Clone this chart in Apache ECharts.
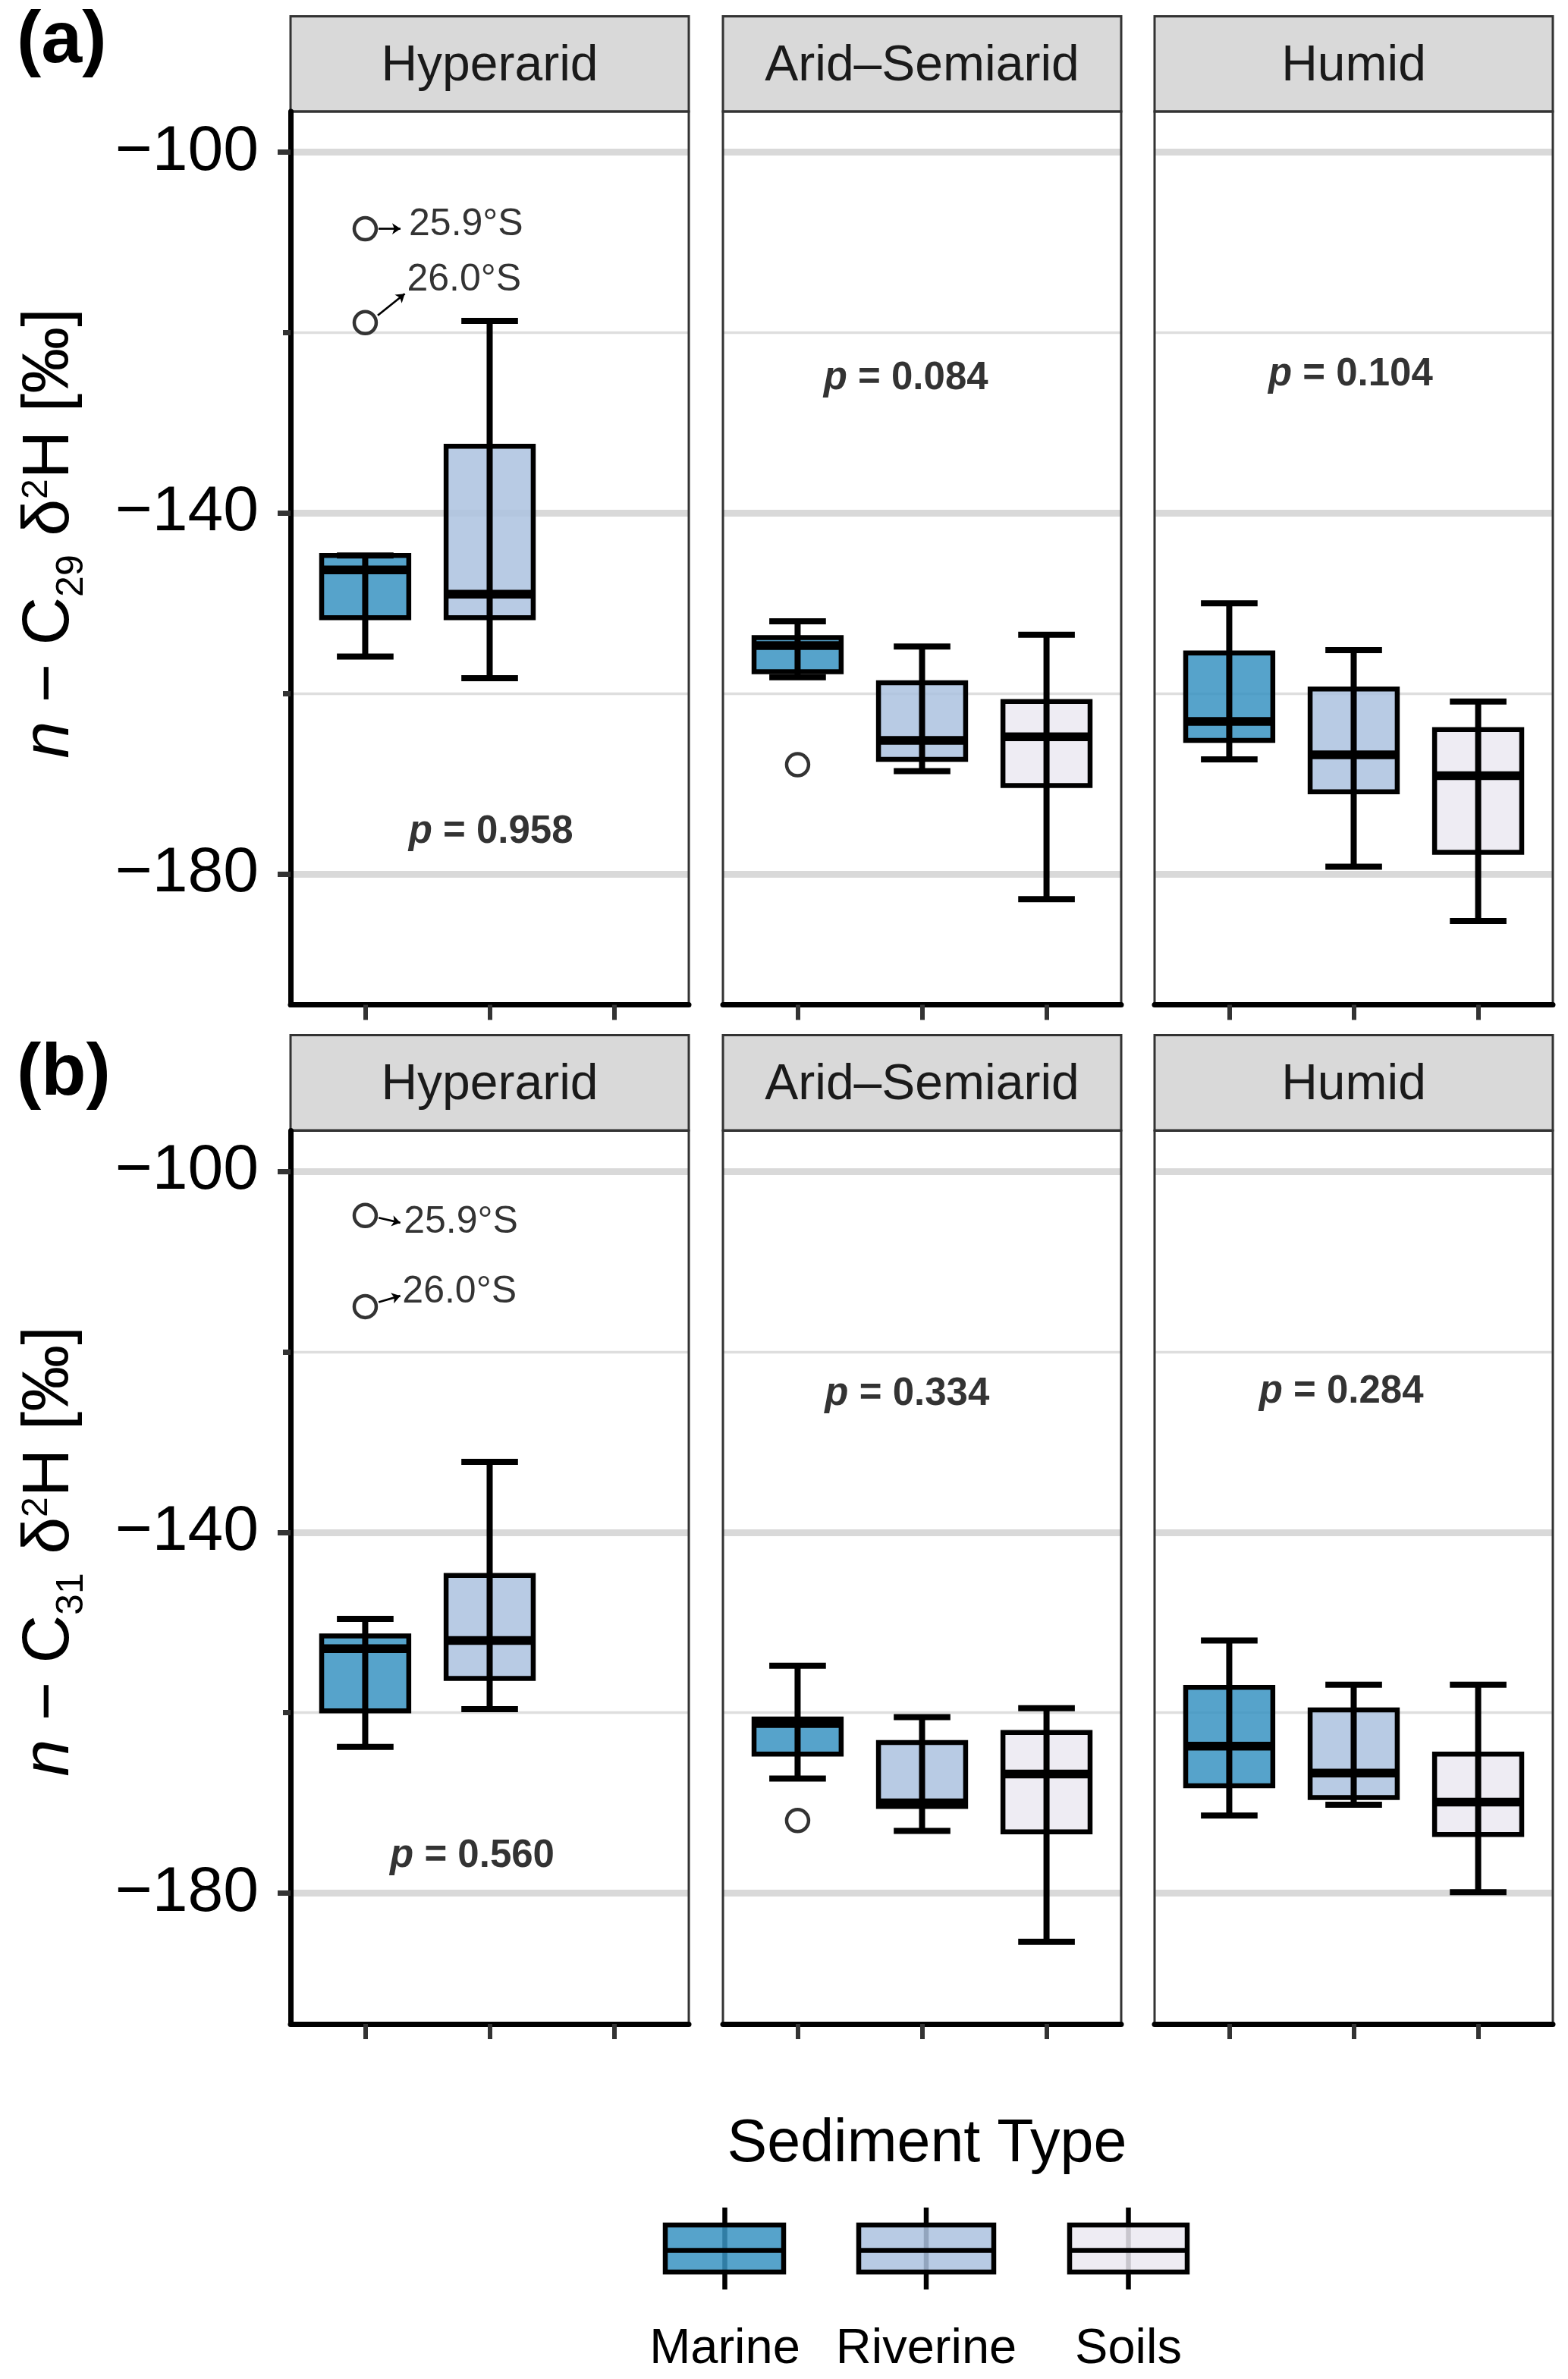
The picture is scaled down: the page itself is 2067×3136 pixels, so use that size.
<!DOCTYPE html>
<html>
<head>
<meta charset="utf-8">
<script src="https://cdn.jsdelivr.net/npm/echarts@6/dist/echarts.min.js"></script>
<style>
html,body{margin:0;padding:0;background:#ffffff;}
#c{width:2067px;height:3136px;}
</style>
</head>
<body>
<div id="c"></div>
<script>
// ---------------- DATA ----------------
const climates = ['Hyperarid', 'Arid\u2013Semiarid', 'Humid'];
const sediments = ['Marine', 'Riverine', 'Soils'];
const yTicks = [-180, -140, -100];
const yMinorTicks = [-160, -120];

// five-number summaries per climate: [lower whisker, Q1, median, Q3, upper whisker]
const c29Marine   = [[-155.9, -151.6, -146.3, -144.7, -144.7], [-158.2, -157.6, -154.7, -153.8, -152.0], [-167.3, -165.2, -163.1, -155.5, -150.0]];
const c29Riverine = [[-158.3, -151.6, -149.0, -132.6, -118.7], [-168.6, -167.3, -165.2, -158.8, -154.8], [-179.2, -170.9, -166.8, -159.5, -155.2]];
const c29Soils    = [null, [-182.8, -170.2, -164.8, -160.9, -153.5], [-185.2, -177.6, -169.1, -164.0, -160.9]];

const c31Marine   = [[-163.8, -159.8, -152.9, -151.5, -149.6], [-167.3, -164.6, -161.2, -160.7, -154.8], [-171.4, -168.1, -163.7, -157.2, -152.0]];
const c31Riverine = [[-159.6, -156.2, -152.0, -144.8, -132.2], [-173.1, -170.4, -170.0, -163.3, -160.5], [-170.2, -169.4, -166.7, -159.7, -156.9]];
const c31Soils    = [null, [-185.4, -173.2, -166.8, -162.2, -159.5], [-179.9, -173.5, -169.9, -164.6, -156.9]];

// outliers: [climate, sediment, value]
const c29Outliers = [['Hyperarid', 'Marine', -108.5], ['Hyperarid', 'Marine', -118.9], ['Arid\u2013Semiarid', 'Marine', -167.9]];
const c31Outliers = [['Hyperarid', 'Marine', -104.9], ['Hyperarid', 'Marine', -115.0], ['Arid\u2013Semiarid', 'Marine', -171.95]];

// p-values per climate
const c29P = ['0.958', '0.084', '0.104'];
const c31P = ['0.560', '0.334', '0.284'];

// outlier annotation labels
const outlierLabels = ['25.9\u00B0S', '26.0\u00B0S'];

// ---------------- LAYOUT / STYLE ----------------
const FONT = '"Liberation Sans", Arial, Helvetica, sans-serif';
const PANEL_X = [383, 953, 1522];
const PANEL_W = 525;
const ROW_TOP = [147, 1490.5];
const PANEL_H = 1177.5;
const STRIP_TOP = [21.5, 1364.5];
const STRIP_H = 125.5;
const Y_MIN = -194.5, Y_MAX = -95.5;
const X_MIN = 0.4, X_MAX = 3.6;
const BOX_WIDTH = 0.70, CAP_WIDTH = 0.455;
const FILLS = ['rgba(56,147,194,0.85)', 'rgba(171,194,223,0.85)', 'rgba(235,233,241,0.85)'];

// label positions (data coords) for p-values, per row, per climate
const P_POS = [
  [[2.01, -175.1], [1.87, -124.8], [1.975, -124.45]],
  [[1.86, -175.65], [1.88, -124.5], [1.9, -124.2]]
];
// annotation arrows + text anchors (data coords), per row
const ANNOT = [
  [{from: [1.107, -108.5], to: [1.284, -108.5], text: [1.351, -107.86]},
   {from: [1.101, -118.1], to: [1.318, -115.7], text: [1.335, -114.0]}],
  [{from: [1.108, -105.15], to: [1.282, -105.7], text: [1.309, -105.5]},
   {from: [1.108, -114.5], to: [1.282, -113.8], text: [1.298, -113.2]}]
];
const ROW_LABELS = ['(a)', '(b)'];
const ROW_LABEL_Y = [55, 1416];
const Y_TITLE_Y = [703, 2045];
const Y_TITLE_SUB = ['29', '31'];

const rows = [
  {boxes: [c29Marine, c29Riverine, c29Soils], outliers: c29Outliers, p: c29P},
  {boxes: [c31Marine, c31Riverine, c31Soils], outliers: c31Outliers, p: c31P}
];

function boxRenderer(params, api) {
  const x = api.value(0);
  const lo = api.coord([x, api.value(1)]);
  const q1 = api.coord([x, api.value(2)]);
  const md = api.coord([x, api.value(3)]);
  const q3 = api.coord([x, api.value(4)]);
  const hi = api.coord([x, api.value(5)]);
  const bw = api.size([BOX_WIDTH, 0])[0];
  const cw = api.size([CAP_WIDTH, 0])[0];
  const cx = lo[0];
  const fill = api.visual('color');
  return {
    type: 'group',
    children: [
      {type: 'rect', shape: {x: cx - bw / 2, y: q3[1], width: bw, height: q1[1] - q3[1]},
       style: {fill: fill, stroke: '#000', lineWidth: 6.5}},
      {type: 'line', shape: {x1: cx, y1: hi[1], x2: cx, y2: lo[1]}, style: {stroke: '#000', lineWidth: 8}},
      {type: 'line', shape: {x1: cx - cw / 2, y1: hi[1], x2: cx + cw / 2, y2: hi[1]}, style: {stroke: '#000', lineWidth: 8}},
      {type: 'line', shape: {x1: cx - cw / 2, y1: lo[1], x2: cx + cw / 2, y2: lo[1]}, style: {stroke: '#000', lineWidth: 8}},
      {type: 'line', shape: {x1: cx - bw / 2, y1: md[1], x2: cx + bw / 2, y2: md[1]}, style: {stroke: '#000', lineWidth: 11.5}}
    ]
  };
}

const grid = [], xAxis = [], yAxis = [], series = [], graphics = [];

rows.forEach((row, r) => {
  climates.forEach((clim, c) => {
    const gi = grid.length;
    grid.push({left: PANEL_X[c], top: ROW_TOP[r], width: PANEL_W, height: PANEL_H,
      show: true, borderColor: '#333', borderWidth: 3, backgroundColor: 'transparent', z: 4, containLabel: false});
    xAxis.push({gridIndex: gi, type: 'value', min: X_MIN, max: X_MAX, z: 6,
      axisLine: {show: true, onZero: false, lineStyle: {color: '#000', width: 7}},
      axisTick: {show: true, customValues: [1, 2, 3], length: 20, lineStyle: {color: '#333', width: 6}},
      axisLabel: {show: false}, splitLine: {show: false}});
    const yi = yAxis.length;
    if (c === 0) {
      yAxis.push({gridIndex: gi, type: 'value', min: Y_MIN, max: Y_MAX, position: 'left', z: 6,
        axisLine: {show: true, onZero: false, lineStyle: {color: '#000', width: 7}},
        axisTick: {show: true, customValues: yTicks, length: 17, lineStyle: {color: '#333', width: 7}},
        axisLabel: {show: true, customValues: yTicks, margin: 42, fontSize: 84, color: '#000', fontFamily: FONT,
          padding: [8, 0, 0, 0],
          formatter: v => '\u2212' + Math.abs(v)},
        splitLine: {show: false}});
      yAxis.push({gridIndex: gi, type: 'value', min: Y_MIN, max: Y_MAX, position: 'left', z: 6,
        axisLine: {show: false},
        axisTick: {show: true, customValues: yMinorTicks, length: 10, lineStyle: {color: '#333', width: 7}},
        axisLabel: {show: false}, splitLine: {show: false}});
    } else {
      yAxis.push({gridIndex: gi, type: 'value', min: Y_MIN, max: Y_MAX, position: 'left',
        axisLine: {show: false}, axisTick: {show: false}, axisLabel: {show: false}, splitLine: {show: false}});
    }

    // boxes
    sediments.forEach((sed, s) => {
      const summ = row.boxes[s][c];
      if (!summ) return;
      const ser = {
        type: 'custom', name: sed, xAxisIndex: gi, yAxisIndex: yi, z: 2, silent: true,
        itemStyle: {color: FILLS[s]},
        encode: {x: 0, y: [1, 2, 3, 4, 5]},
        renderItem: boxRenderer,
        data: [[s + 1].concat(summ)]
      };
      if (s === 0) {
        ser.markLine = {
          silent: true, z: 1, symbol: ['none', 'none'], label: {show: false}, animation: false,
          emphasis: {disabled: true},
          data: yTicks.map(v => ({yAxis: v, lineStyle: {color: '#D9D9D9', width: 9, type: 'solid'}}))
            .concat(yMinorTicks.map(v => ({yAxis: v, lineStyle: {color: '#DEDEDE', width: 3.3, type: 'solid'}})))
        };
      }
      series.push(ser);
    });

    // outliers
    const outs = row.outliers.filter(o => o[0] === clim).map(o => [sediments.indexOf(o[1]) + 1, o[2]]);
    if (outs.length) {
      series.push({type: 'scatter', xAxisIndex: gi, yAxisIndex: yi, z: 3, silent: true,
        symbol: 'circle', symbolSize: 29,
        itemStyle: {color: 'rgba(0,0,0,0)', borderColor: '#333', borderWidth: 4.5, opacity: 1},
        data: outs});
    }

    // p-value label
    series.push({type: 'scatter', xAxisIndex: gi, yAxisIndex: yi, z: 3, silent: true, symbolSize: 0,
      data: [P_POS[r][c]],
      label: {show: true, position: 'inside', offset: [0, 3], formatter: '{i|p}{b| = ' + row.p[c] + '}',
        rich: {
          i: {fontStyle: 'italic', fontWeight: 'bold', fontSize: 51, fontFamily: FONT, color: '#000'},
          b: {fontWeight: 'bold', fontSize: 51, fontFamily: FONT, color: '#000'}
        }}});

    // outlier annotations (Hyperarid only)
    if (c === 0) {
      series.push({type: 'scatter', xAxisIndex: gi, yAxisIndex: yi, z: 3, silent: true, symbolSize: 0,
        data: ANNOT[r].map((a, k) => ({value: a.text, name: outlierLabels[k]})),
        label: {show: true, position: 'right', distance: 0, offset: [0, 2], formatter: p => p.name,
          fontSize: 50, fontFamily: FONT, color: '#000'},
        markLine: {silent: true, z: 4, animation: false, symbol: ['none', 'arrow'], symbolSize: 11,
          label: {show: false}, emphasis: {disabled: true},
          lineStyle: {color: '#000', width: 2.7, type: 'solid'},
          data: ANNOT[r].map(a => [{coord: a.from}, {coord: a.to}])}
      });
    }

    // strip
    graphics.push({type: 'rect', shape: {x: PANEL_X[c], y: STRIP_TOP[r], width: PANEL_W, height: STRIP_H},
      style: {fill: '#D9D9D9', stroke: '#333', lineWidth: 3}, silent: true});
    graphics.push({type: 'text', x: PANEL_X[c] + PANEL_W / 2, y: STRIP_TOP[r] + STRIP_H / 2 + 4,
      style: {text: clim, fontSize: 66, fontFamily: FONT, fill: '#1A1A1A', align: 'center', verticalAlign: 'middle'},
      silent: true});
  });

  // row label
  graphics.push({type: 'text', x: 22, y: ROW_LABEL_Y[r],
    style: {text: ROW_LABELS[r], fontSize: 97, fontWeight: 'bold', fontFamily: FONT, fill: '#000',
      align: 'left', verticalAlign: 'middle'}, silent: true});

  // y-axis title
  const main = {fontSize: 88, fontFamily: FONT, fill: '#000', lineHeight: 120};
  graphics.push({type: 'text', x: 66, y: Y_TITLE_Y[r], rotation: Math.PI / 2, silent: true,
    style: {
      text: '{i|n}{m| \u2212 C}{sub|' + Y_TITLE_SUB[r] + '}{m| \u03B4}{sup|2}{m|H [\u2030]}',
      align: 'center', verticalAlign: 'middle', fontSize: 88, fontFamily: FONT, fill: '#000', lineHeight: 120,
      rich: {
        i: Object.assign({}, main, {fontStyle: 'italic'}),
        m: Object.assign({}, main),
        sub: {fontSize: 50, fontFamily: FONT, fill: '#000', height: 62, verticalAlign: 'bottom'},
        sup: {fontSize: 48, fontFamily: FONT, fill: '#000', height: 86, verticalAlign: 'top'}
      }
    }});
});

// legend
const LEG = [
  {cx: 955.5, x: 877, w: 156},
  {cx: 1221, x: 1132, w: 178},
  {cx: 1487.5, x: 1410, w: 155}
];
graphics.push({type: 'text', x: 1222, y: 2827, silent: true,
  style: {text: 'Sediment Type', fontSize: 79, fontFamily: FONT, fill: '#000', align: 'center', verticalAlign: 'middle'}});
sediments.forEach((sed, s) => {
  const L = LEG[s];
  graphics.push({type: 'line', shape: {x1: L.cx, y1: 2910, x2: L.cx, y2: 3018}, style: {stroke: '#000', lineWidth: 6.5}, silent: true});
  graphics.push({type: 'rect', shape: {x: L.x, y: 2933, width: L.w, height: 62},
    style: {fill: FILLS[s], stroke: '#000', lineWidth: 6.5}, silent: true});
  graphics.push({type: 'line', shape: {x1: L.x, y1: 2966.5, x2: L.x + L.w, y2: 2966.5}, style: {stroke: '#000', lineWidth: 6.5}, silent: true});
  graphics.push({type: 'text', x: L.cx, y: 3097, silent: true,
    style: {text: sed, fontSize: 65, fontFamily: FONT, fill: '#000', align: 'center', verticalAlign: 'middle'}});
});

const option = {
  backgroundColor: '#ffffff',
  animation: false,
  grid: grid,
  xAxis: xAxis,
  yAxis: yAxis,
  series: series,
  graphic: {elements: graphics}
};

const chart = echarts.init(document.getElementById('c'), null, {renderer: 'canvas', width: 2067, height: 3136});
chart.setOption(option);
</script>
</body>
</html>
